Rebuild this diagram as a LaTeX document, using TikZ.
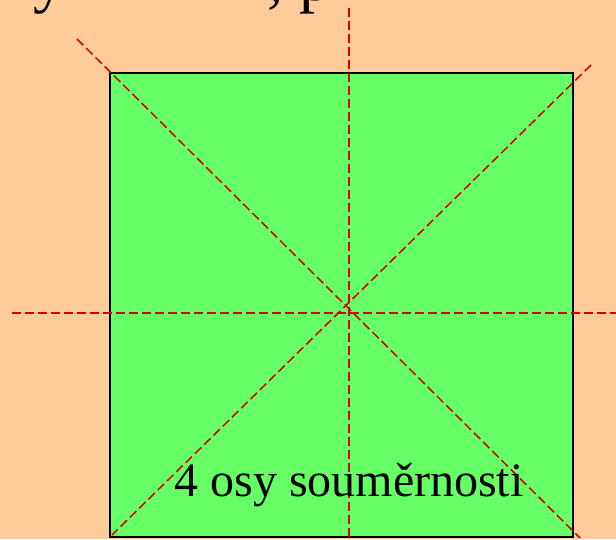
\documentclass[tikz,border=0pt]{standalone}
\usepackage{fontspec}
\setmainfont{Liberation Serif}
\definecolor{bgpeach}{RGB}{255,204,153}
\definecolor{sqgreen}{RGB}{102,255,102}
\definecolor{axisred}{RGB}{215,0,0}
\tikzset{
  axisline/.style={draw=axisred, line width=1.15pt, dash pattern=on 6.75pt off 3pt},
  squarebox/.style={fill=sqgreen, draw=black, line width=1.2pt},
}
\begin{document}
\begin{tikzpicture}[x=0.75pt,y=-0.75pt]
\useasboundingbox (0,0) rectangle (616,539);
\clip (0,0) rectangle (616,539);
\fill[bgpeach] (0,0) rectangle (616,539);
% cut-off title fragments (only their lower parts show, as in the reference)
\node[anchor=base west, inner sep=0pt, font=\fontsize{48}{56}\selectfont] (tA) at (33,0) {y};
\node[anchor=base west, inner sep=0pt, font=\fontsize{48}{56}\selectfont] (tB) at (267,0) {, p};
% square
\path[squarebox] (110,73) rectangle (573,537);
% symmetry axes
\coordinate (vT) at (349,8);
\coordinate (vB) at (349,540);
\coordinate (hL) at (12,313);
\coordinate (hR) at (617,313);
\coordinate (d1a) at (77,39);
\coordinate (d1b) at (580,538);
\coordinate (d2a) at (591,65);
\coordinate (d2b) at (112,535);
\draw[axisline] (vT) -- (vB);
\draw[axisline] (hL) -- (hR);
\draw[axisline] (d1a) -- (d1b);
\draw[axisline] (d2a) -- (d2b);
\node[anchor=base, inner sep=0pt, font=\fontsize{36}{42}\selectfont] (lbl) at (349,496) {4 osy souměrnosti};
\end{tikzpicture}
\end{document}
